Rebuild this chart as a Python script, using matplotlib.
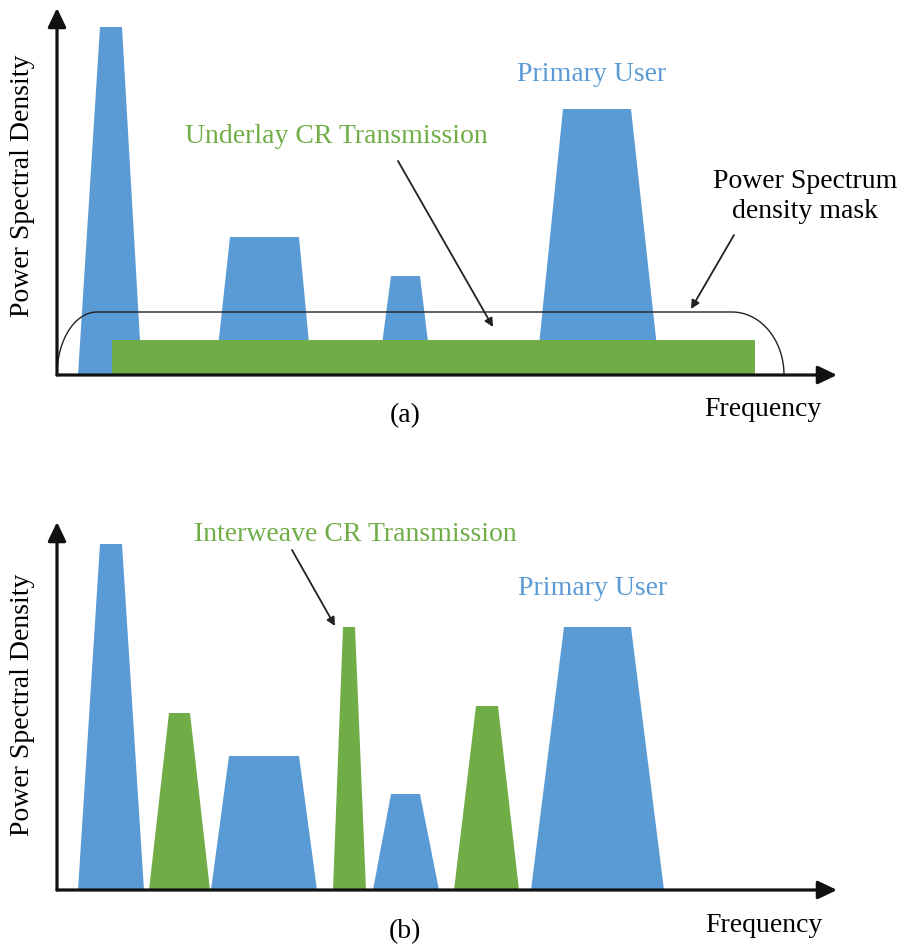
import numpy as np
import matplotlib
matplotlib.use("Agg", force=True)
import matplotlib.pyplot as plt

plt.rcParams['font.family'] = ['Liberation Serif', 'DejaVu Serif']

BLUE = '#5B9BD5'
GREEN = '#70AD47'

# spectra: (left foot, left shoulder, right shoulder, right foot, height)
pu_a = [(21, 43, 65, 85, 348),
        (158, 173, 242, 255, 138),
        (321, 334, 363, 375, 99),
        (479, 506, 574, 603, 266)]
# underlay CR band: (start, stop, level)
cr_a = (55, 698, 35)
# PSD mask: start, end of rise, start of fall, end, level
mask_a = (0, 40, 675, 727, 63)

pu_b = [(21, 43, 65, 87, 346),
        (154, 172, 242, 260, 134),
        (316, 334, 363, 382, 96),
        (474, 507, 574, 607, 263)]
cr_b = [(92, 112, 133, 153, 177),
        (276, 286, 298, 309, 263),
        (397, 419, 441, 462, 184)]

W, H = 902, 945
FS = 20


def add_panel(fig, left, top, width, height):
    ax = fig.add_axes([left / W, 1 - (top + height) / H, width / W, height / H])
    ax.set_xlim(0, width)
    ax.set_ylim(0, height)
    ax.set_axis_off()
    return ax


def draw_axes(ax, xend, yend):
    kw = dict(arrowstyle='-|>,head_length=1.15,head_width=0.55', lw=2.3,
              color='#111111', mutation_scale=10, shrinkA=0, shrinkB=0)
    ax.annotate('', xy=(xend, 0), xytext=(0, 0), arrowprops=kw,
                annotation_clip=False, zorder=5)
    ax.annotate('', xy=(0, yend), xytext=(0, 0), arrowprops=kw,
                annotation_clip=False, zorder=5)


def trapezoid(ax, spec, color):
    x0, x1, x2, x3, h = spec
    ax.fill([x0, x1, x2, x3], [0, h, h, 0], color=color, lw=0, zorder=2)


def pointer(ax, start, end):
    ax.annotate('', xy=end, xytext=start,
                arrowprops=dict(arrowstyle='-|>,head_length=0.5,head_width=0.25',
                                lw=1.3, color='#222222', shrinkA=0, shrinkB=0,
                                mutation_scale=10),
                annotation_clip=False, zorder=6)


fig = plt.figure(figsize=(W / 100, H / 100), dpi=100)

# ---- (a) underlay ----
ax = add_panel(fig, 57, 10, 780, 366)
for s in pu_a:
    trapezoid(ax, s, BLUE)
ax.fill_between([cr_a[0], cr_a[1]], 0, cr_a[2], color=GREEN, lw=0, zorder=3)

m0, m1, m2, m3, lvl = mask_a
t = np.linspace(0, np.pi / 2, 60)
rise_x = m1 - (m1 - m0) * np.cos(t)
rise_y = lvl * np.sin(t)
fall_x = m2 + (m3 - m2) * np.sin(t)
fall_y = lvl * np.cos(t)
ax.plot(np.r_[rise_x, fall_x], np.r_[rise_y, fall_y], color='#222222', lw=1.0, zorder=4)

draw_axes(ax, 780, 367)
ax.text(535, 295, 'Primary User', color=BLUE, fontsize=FS, ha='center', va='baseline')
ax.text(279, 233, 'Underlay CR Transmission', color=GREEN, fontsize=FS,
        ha='center', va='baseline')
pointer(ax, (341, 214), (436, 48))
ax.text(748, 188, 'Power Spectrum', color='black', fontsize=FS, ha='center', va='baseline')
ax.text(748, 158, 'density mask', color='black', fontsize=FS, ha='center', va='baseline')
pointer(ax, (677, 140), (634, 66))
ax.text(706, -40, 'Frequency', fontsize=FS, ha='center', va='baseline')
ax.text(348, -40, '(a)', fontsize=FS, ha='center', va='center')
ax.text(-34, 190, 'Power Spectral Density', fontsize=FS, rotation=90,
        ha='center', va='center')

# ---- (b) interweave ----
ax = add_panel(fig, 57, 523, 780, 368)
for s in pu_b:
    trapezoid(ax, s, BLUE)
for s in cr_b:
    trapezoid(ax, s, GREEN)

draw_axes(ax, 780, 368)
ax.text(298, 350, 'Interweave CR Transmission', color=GREEN, fontsize=FS,
        ha='center', va='baseline')
pointer(ax, (235, 340), (278, 264))
ax.text(536, 296, 'Primary User', color=BLUE, fontsize=FS, ha='center', va='baseline')
ax.text(707, -41, 'Frequency', fontsize=FS, ha='center', va='baseline')
ax.text(348, -41, '(b)', fontsize=FS, ha='center', va='center')
ax.text(-34, 186, 'Power Spectral Density', fontsize=FS, rotation=90,
        ha='center', va='center')

fig.savefig('out.png', dpi=100)
